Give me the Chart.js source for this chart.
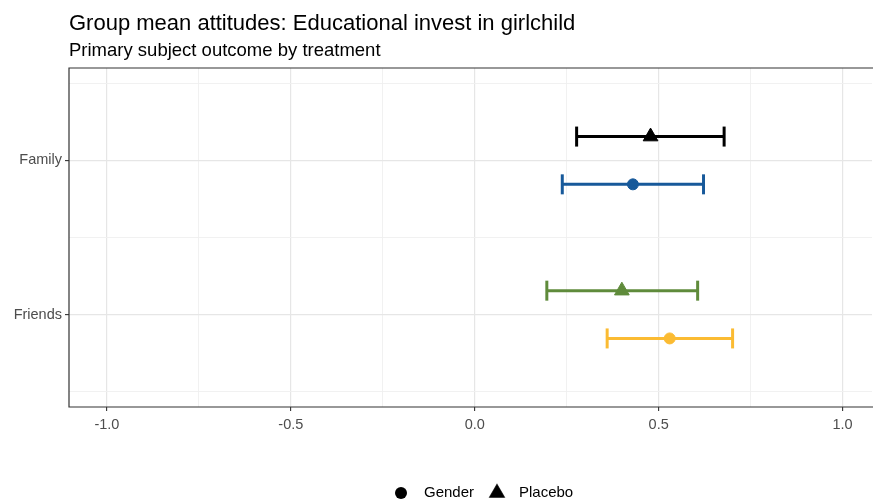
<!DOCTYPE html>
<html>
<head>
<meta charset="utf-8">
<script src="https://cdn.jsdelivr.net/npm/chart.js@4.4.1/dist/chart.umd.min.js"></script>
<style>
  html, body { margin: 0; padding: 0; background: #ffffff; overflow: hidden; }
  canvas { display: block; }
</style>
</head>
<body>
<canvas id="chart" width="885" height="502"></canvas>
<script>
// Group means with confidence intervals, by source and treatment
const categories = ['Family', 'Friends'];
const treatments = ['Gender', 'Placebo'];
const xTicks = [-1.0, -0.75, -0.5, -0.25, 0.0, 0.25, 0.5, 0.75, 1.0];

// one entry per category (Family, Friends)
const placeboMean  = [0.478, 0.400];
const placeboLower = [0.277, 0.196];
const placeboUpper = [0.678, 0.606];
const genderMean   = [0.430, 0.530];
const genderLower  = [0.238, 0.360];
const genderUpper  = [0.622, 0.701];

// colours per category for each treatment
const placeboColors = ['#000000', '#5f8b3b'];
const genderColors  = ['#17599a', '#fbbb32'];

const dodge = 0.155;
const font = "'Liberation Sans', Arial, sans-serif";

function makeSeries(catIndex, offset, mean, lower, upper, color, shape) {
  const y = catIndex + 1 + offset;
  const bar = {
    type: 'line',
    data: [{ x: lower[catIndex], y: y }, { x: upper[catIndex], y: y }],
    borderColor: color,
    borderWidth: 3,
    pointStyle: 'line',
    pointRotation: 90,
    pointRadius: 10,
    pointBorderColor: color,
    pointBorderWidth: 3,
    pointHoverRadius: 10,
    fill: false
  };
  const point = {
    type: 'scatter',
    data: [{ x: mean[catIndex], y: y }],
    backgroundColor: color,
    borderColor: color,
    pointStyle: shape,
    pointRadius: shape === 'triangle' ? 8.5 : 5.5,
    borderWidth: 1
  };
  return [bar, point];
}

const datasets = [];
categories.forEach((c, i) => {
  datasets.push(...makeSeries(i, -dodge, placeboMean, placeboLower, placeboUpper, placeboColors[i], 'triangle'));
  datasets.push(...makeSeries(i, dodge, genderMean, genderLower, genderUpper, genderColors[i], 'circle'));
});

// title, subtitle, panel frame and shape legend
const decorations = {
  id: 'decorations',
  afterDraw(chart) {
    const ctx = chart.ctx;
    const area = chart.chartArea;
    ctx.save();
    ctx.fillStyle = '#000000';
    ctx.textBaseline = 'alphabetic';
    ctx.textAlign = 'left';
    ctx.font = '22px ' + font;
    ctx.fillText('Group mean attitudes: Educational invest in girlchild', area.left, 30);
    ctx.font = '18.5px ' + font;
    ctx.fillText('Primary subject outcome by treatment', area.left, 56);

    ctx.strokeStyle = '#333333';
    ctx.lineWidth = 1.2;
    ctx.beginPath();
    ctx.moveTo(area.right + 20, area.top);
    ctx.lineTo(area.left, area.top);
    ctx.lineTo(area.left, area.bottom);
    ctx.lineTo(area.right + 20, area.bottom);
    ctx.stroke();

    // legend
    const ly = 493;
    ctx.fillStyle = '#000000';
    ctx.font = '15px ' + font;
    ctx.textBaseline = 'middle';
    ctx.beginPath();
    ctx.arc(401, ly, 6, 0, Math.PI * 2);
    ctx.fill();
    ctx.fillText(treatments[0], 424, ly);
    Chart.helpers.drawPoint(ctx, { pointStyle: 'triangle', radius: 8.5, borderWidth: 1 }, 497, ly);
    ctx.fill();
    ctx.fillText(treatments[1], 519, ly);
    ctx.restore();
  }
};

const isMajorX = v => Math.abs(v * 2 - Math.round(v * 2)) < 1e-6;
const isMajorY = v => Math.abs(v - Math.round(v)) < 1e-6;

new Chart(document.getElementById('chart'), {
  type: 'scatter',
  data: { datasets: datasets },
  options: {
    responsive: false,
    animation: false,
    layout: { padding: { top: 68, left: 0, right: 0, bottom: 65 } },
    plugins: {
      legend: { display: false },
      tooltip: { enabled: false }
    },
    scales: {
      x: {
        type: 'linear',
        min: -1.103,
        max: 1.08,
        afterBuildTicks: scale => { scale.ticks = xTicks.map(v => ({ value: v })); },
        afterFit: scale => { scale.height = 30; },
        border: { display: false },
        grid: {
          color: ctx => isMajorX(ctx.tick.value) ? '#e6e6e6' : '#efefef',
          lineWidth: ctx => isMajorX(ctx.tick.value) ? 1.2 : 0.9,
          tickColor: ctx => isMajorX(ctx.tick.value) ? '#333333' : 'rgba(0,0,0,0)',
          tickLength: 4,
          tickWidth: 1.1
        },
        ticks: {
          autoSkip: false,
          maxRotation: 0,
          padding: 5,
          color: '#4d4d4d',
          font: { family: font, size: 14.5 },
          callback: v => isMajorX(v) ? v.toFixed(1) : ''
        }
      },
      y: {
        type: 'linear',
        reverse: true,
        min: 0.4,
        max: 2.6,
        afterBuildTicks: scale => { scale.ticks = [0.5, 1, 1.5, 2, 2.5].map(v => ({ value: v })); },
        afterFit: scale => { scale.width = 69; },
        border: { display: false },
        grid: {
          color: ctx => isMajorY(ctx.tick.value) ? '#e6e6e6' : '#efefef',
          lineWidth: ctx => isMajorY(ctx.tick.value) ? 1.2 : 0.9,
          tickColor: ctx => isMajorY(ctx.tick.value) ? '#333333' : 'rgba(0,0,0,0)',
          tickLength: 4,
          tickWidth: 1.1
        },
        ticks: {
          autoSkip: false,
          padding: 3,
          color: '#4d4d4d',
          font: { family: font, size: 14.5 },
          callback: v => isMajorY(v) ? categories[Math.round(v) - 1] : ''
        }
      }
    }
  },
  plugins: [decorations]
});
</script>
</body>
</html>
